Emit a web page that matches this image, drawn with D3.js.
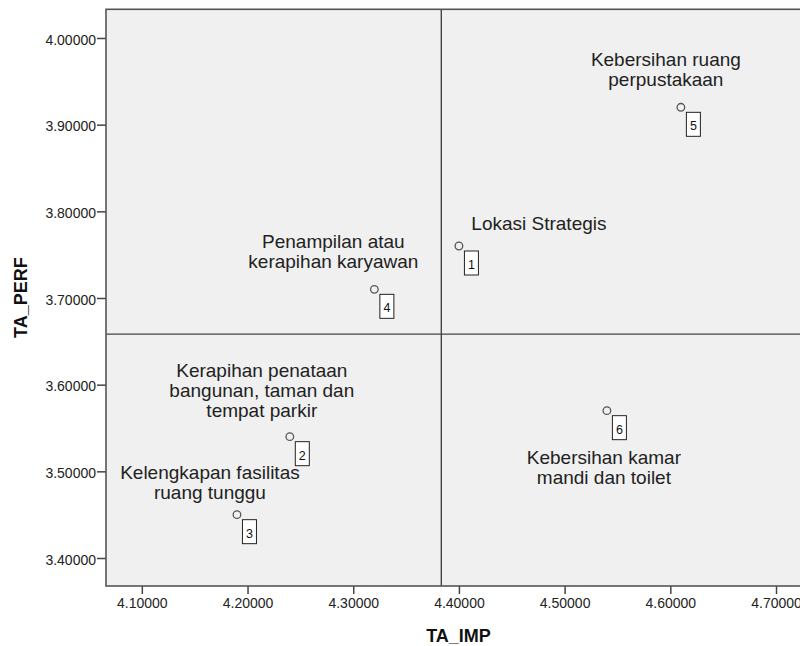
<!DOCTYPE html>
<html>
<head>
<meta charset="utf-8">
<script src="https://cdn.jsdelivr.net/npm/d3@7"></script>
<style>
  html, body { margin: 0; padding: 0; background: #ffffff; }
  svg { display: block; font-family: "Liberation Sans", Arial, sans-serif; }
</style>
</head>
<body>
<svg id="chart" width="800" height="646"></svg>
<script>
// ---- data ----
const ids = [1, 2, 3, 4, 5, 6];
const taImp = [4.40, 4.24, 4.19, 4.32, 4.61, 4.54];
const taPerf = [3.76, 3.54, 3.45, 3.71, 3.92, 3.57];
const pointLabels = [
  ["Lokasi Strategis"],
  ["Kerapihan penataan", "bangunan, taman dan", "tempat parkir"],
  ["Kelengkapan fasilitas", "ruang tunggu"],
  ["Penampilan atau", "kerapihan karyawan"],
  ["Kebersihan ruang", "perpustakaan"],
  ["Kebersihan kamar", "mandi dan toilet"]
];
const xTicks = [4.1, 4.2, 4.3, 4.4, 4.5, 4.6, 4.7];
const yTicks = [3.4, 3.5, 3.6, 3.7, 3.8, 3.9, 4.0];
const xTitle = "TA_IMP";
const yTitle = "TA_PERF";

// ---- layout (pixels) ----
const labelOffsets = [[80, -16], [-28, -60], [-27, -36], [-41, -41], [-15, -41], [-3, 53]];
const plot = { left: 106, top: 9.3, right: 811, bottom: 586 };

const svg = d3.select("#chart");

const x = d3.scaleLinear().domain([4.0661, 4.7331]).range([plot.left, plot.right]);
const y = d3.scaleLinear().domain([3.3677, 4.0331]).range([plot.bottom, plot.top]);

// plot background
svg.append("rect")
  .attr("x", plot.left).attr("y", plot.top)
  .attr("width", plot.right - plot.left).attr("height", plot.bottom - plot.top)
  .attr("fill", "#f0f0f0");

// axes
const fmt = d3.format(".5f");
const xAxis = svg.append("g")
  .attr("transform", `translate(0,${plot.bottom})`)
  .call(d3.axisBottom(x).tickValues(xTicks).tickFormat(fmt).tickSize(8).tickSizeOuter(0).tickPadding(4));
xAxis.select(".domain").remove();
xAxis.selectAll(".tick line").attr("stroke", "#444").attr("stroke-width", 1.5);
xAxis.selectAll(".tick text").attr("font-size", 14).attr("fill", "#222")
  .attr("font-family", "Liberation Sans, Arial, sans-serif").attr("dy", "0.71em");

const yAxis = svg.append("g")
  .attr("transform", `translate(${plot.left},0)`)
  .call(d3.axisLeft(y).tickValues(yTicks).tickFormat(fmt).tickSize(9).tickSizeOuter(0).tickPadding(1));
yAxis.select(".domain").remove();
yAxis.selectAll(".tick line").attr("stroke", "#444").attr("stroke-width", 1.5);
yAxis.selectAll(".tick text").attr("font-size", 14).attr("fill", "#222")
  .attr("font-family", "Liberation Sans, Arial, sans-serif").attr("dy", "0.45em");

// reference lines at the means
const meanImp = d3.mean(taImp);
const meanPerf = d3.mean(taPerf);
svg.append("line")
  .attr("x1", x(meanImp)).attr("x2", x(meanImp))
  .attr("y1", plot.top).attr("y2", plot.bottom)
  .attr("stroke", "#444").attr("stroke-width", 1.4);
svg.append("line")
  .attr("x1", plot.left).attr("x2", plot.right)
  .attr("y1", y(meanPerf)).attr("y2", y(meanPerf))
  .attr("stroke", "#444").attr("stroke-width", 1.4);

// frame
svg.append("rect")
  .attr("x", plot.left).attr("y", plot.top)
  .attr("width", plot.right - plot.left).attr("height", plot.bottom - plot.top)
  .attr("fill", "none").attr("stroke", "#555").attr("stroke-width", 1.6);

// points
const data = ids.map((id, i) => ({ id, imp: taImp[i], perf: taPerf[i], lines: pointLabels[i], off: labelOffsets[i] }));

const g = svg.append("g");
g.selectAll("circle.pt").data(data).join("circle")
  .attr("class", "pt")
  .attr("cx", d => x(d.imp)).attr("cy", d => y(d.perf))
  .attr("r", 3.8)
  .attr("fill", "none").attr("stroke", "#555").attr("stroke-width", 1.3);

// id boxes
const boxes = g.selectAll("g.box").data(data).join("g")
  .attr("class", "box")
  .attr("transform", d => `translate(${x(d.imp) + 5.5},${y(d.perf) + 5})`);
boxes.append("rect")
  .attr("width", 14).attr("height", 24)
  .attr("fill", "#ffffff").attr("stroke", "#222").attr("stroke-width", 1);
boxes.append("text")
  .attr("x", 7).attr("y", 18)
  .attr("text-anchor", "middle").attr("font-size", 12.5).attr("fill", "#111")
  .text(d => d.id);

// text labels
const lbl = g.selectAll("text.lbl").data(data).join("text")
  .attr("class", "lbl")
  .attr("text-anchor", "middle").attr("font-size", 19).attr("fill", "#222");
lbl.selectAll("tspan").data(d => d.lines.map((t, k) => ({ t, k, d }))).join("tspan")
  .attr("x", o => x(o.d.imp) + o.d.off[0])
  .attr("y", o => y(o.d.perf) + o.d.off[1] + o.k * 20)
  .text(o => o.t);

// axis titles
svg.append("text")
  .attr("x", (plot.left + plot.right) / 2).attr("y", 642)
  .attr("text-anchor", "middle").attr("font-size", 18).attr("font-weight", "bold").attr("fill", "#111")
  .text(xTitle);
svg.append("text")
  .attr("transform", `translate(27,${(plot.top + plot.bottom) / 2}) rotate(-90)`)
  .attr("text-anchor", "middle").attr("font-size", 18).attr("font-weight", "bold").attr("fill", "#111")
  .text(yTitle);
</script>
</body>
</html>
